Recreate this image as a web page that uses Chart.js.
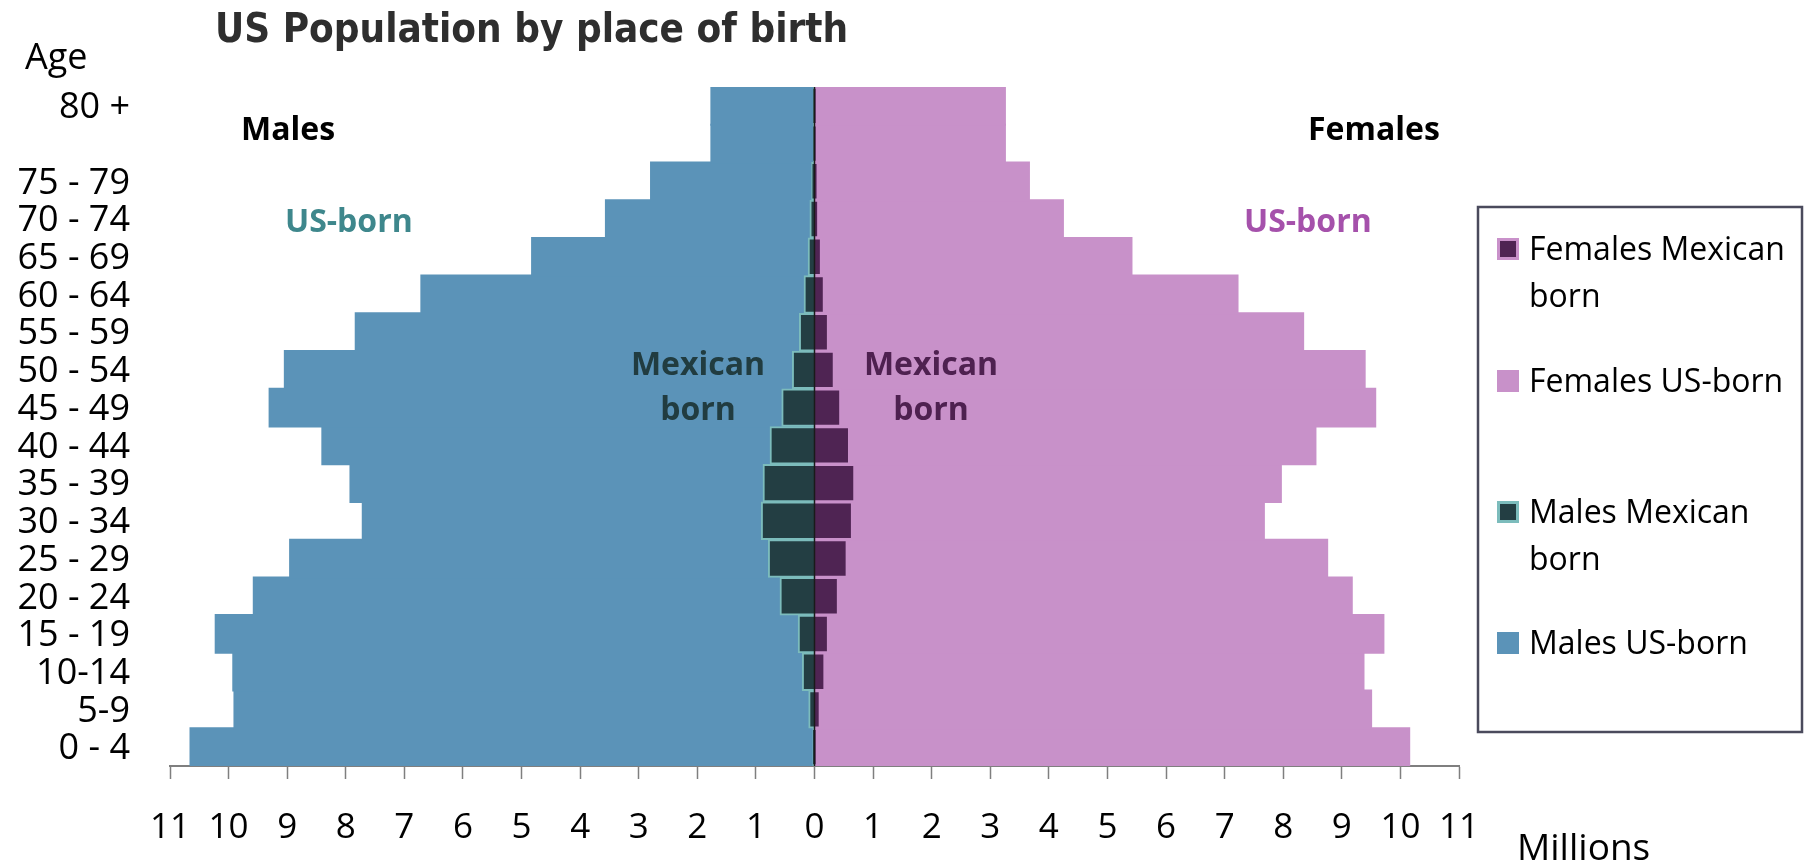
<!DOCTYPE html>
<html>
<head>
<meta charset="utf-8">
<title>US Population by place of birth</title>
<script src="https://cdn.jsdelivr.net/npm/chart.js@4.4.1/dist/chart.umd.min.js"></script>
<style>
  html, body { margin: 0; padding: 0; background: #fff; }
  #wrap { width: 1804px; height: 865px; }
</style>
</head>
<body>
<div id="wrap"><canvas id="pyramid" width="1804" height="865"></canvas></div>
<script>
// age groups from the bottom of the pyramid up; the 80+ bar covers two rows
const ageGroups = ['0 - 4', '5-9', '10-14', '15 - 19', '20 - 24', '25 - 29', '30 - 34', '35 - 39',
  '40 - 44', '45 - 49', '50 - 54', '55 - 59', '60 - 64', '65 - 69', '70 - 74', '75 - 79', '', '80 +'];

// millions of people
const malesUS = [10.65, 9.90, 9.92, 10.22, 9.57, 8.95, 7.71, 7.92, 8.40, 9.30, 9.04, 7.83, 6.71, 4.82, 3.56, 2.79, 1.76, 1.76];
const malesMexican = [0.03, 0.10, 0.21, 0.28, 0.59, 0.79, 0.91, 0.88, 0.76, 0.56, 0.38, 0.26, 0.18, 0.11, 0.08, 0.05, 0.02, 0.02];
const femalesUS = [10.15, 9.50, 9.37, 9.71, 9.17, 8.75, 7.67, 7.96, 8.55, 9.57, 9.39, 8.34, 7.22, 5.41, 4.24, 3.66, 3.25, 3.25];
const femalesMexican = [0.02, 0.10, 0.18, 0.24, 0.41, 0.56, 0.65, 0.69, 0.60, 0.45, 0.34, 0.24, 0.17, 0.12, 0.07, 0.05, 0.02, 0.02];

const xLimit = 11;

// text + legend drawn over the chart
const decorations = {
  id: 'decorations',
  afterDatasetsDraw(chart) {
    const { ctx, chartArea, scales } = chart;
    const x0 = scales.x.getPixelForValue(0);
    ctx.save();
    ctx.strokeStyle = '#1a1a1a';
    ctx.lineWidth = 1.5;
    ctx.beginPath();
    ctx.moveTo(x0, chartArea.top);
    ctx.lineTo(x0, chartArea.bottom);
    ctx.stroke();
    ctx.restore();
  },
  afterDraw(chart) {
    const ctx = chart.ctx;
    ctx.save();
    ctx.textBaseline = 'alphabetic';

    function txt(s, x, y, font, color, align) {
      ctx.font = font;
      ctx.fillStyle = color;
      ctx.textAlign = align || 'left';
      ctx.fillText(s, x, y);
    }

    txt('US Population by place of birth', 215, 42, 'bold 40px "DejaVu Sans Condensed", "DejaVu Sans"', '#2e2e2e');
    txt('Age', 25, 69, '36px "Open Sans"', '#000');
    txt('Millions', 1517, 860, '37px "Open Sans"', '#000');

    const bold = 'bold 32px "Open Sans"';
    txt('Males', 241, 140, bold, '#000');
    txt('Females', 1308, 140, bold, '#000');
    txt('US-born', 285, 232, bold, '#3e878c');
    txt('US-born', 1244, 232, bold, '#a551ab');
    txt('Mexican', 698, 375, bold, '#213c40', 'center');
    txt('born', 698, 420, bold, '#213c40', 'center');
    txt('Mexican', 931, 375, bold, '#4e2150', 'center');
    txt('born', 931, 420, bold, '#4e2150', 'center');

    // legend box
    ctx.strokeStyle = '#4a4a5c';
    ctx.lineWidth = 2.5;
    ctx.strokeRect(1478, 207, 324, 525);

    const baselines = [260, 392, 523, 654];
    ctx.font = '32px "Open Sans"';
    chart.data.datasets.forEach((ds, i) => {
      const base = baselines[i];
      ctx.fillStyle = ds.borderWidth ? ds.borderColor : ds.backgroundColor;
      ctx.fillRect(1497, base - 22, 22, 22);
      if (ds.borderWidth) {
        ctx.fillStyle = ds.backgroundColor;
        ctx.fillRect(1500, base - 19, 16, 16);
      }
      // wrap the label inside the box
      const words = ds.label.split(' ');
      const lines = [];
      let line = '';
      words.forEach(w => {
        const test = line ? line + ' ' + w : w;
        if (ctx.measureText(test).width > 266 && line) {
          lines.push(line);
          line = w;
        } else {
          line = test;
        }
      });
      lines.push(line);
      ctx.fillStyle = '#000';
      ctx.textAlign = 'left';
      lines.forEach((l, k) => ctx.fillText(l, 1529, base + k * 47));
    });
    ctx.restore();
  }
};

new Chart(document.getElementById('pyramid'), {
  type: 'bar',
  data: {
    labels: ageGroups,
    datasets: [
      {
        label: 'Females Mexican born',
        data: femalesMexican,
        backgroundColor: '#4f2453',
        borderColor: '#c991ca',
        borderWidth: 2
      },
      {
        label: 'Females US-born',
        data: femalesUS,
        backgroundColor: '#c891c9',
        borderWidth: 0,
        inflateAmount: 1
      },
      {
        label: 'Males Mexican born',
        data: malesMexican.map(v => -v),
        backgroundColor: '#233e43',
        borderColor: '#7cbcbc',
        borderWidth: 2
      },
      {
        label: 'Males US-born',
        data: malesUS.map(v => -v),
        backgroundColor: '#5b93b8',
        borderWidth: 0,
        inflateAmount: 1
      }
    ]
  },
  options: {
    indexAxis: 'y',
    responsive: false,
    animation: false,
    devicePixelRatio: 1,
    layout: { padding: { top: 87, right: 345, left: 0, bottom: 0 } },
    datasets: {
      bar: { grouped: false, barPercentage: 1, categoryPercentage: 1 }
    },
    plugins: {
      legend: { display: false },
      title: { display: false },
      tooltip: { enabled: false }
    },
    scales: {
      x: {
        type: 'linear',
        min: -xLimit,
        max: xLimit,
        ticks: {
          stepSize: 1,
          autoSkip: false,
          maxRotation: 0,
          padding: 28,
          color: '#000',
          font: { family: 'Open Sans', size: 35 },
          callback: v => Math.abs(v)
        },
        grid: { drawOnChartArea: false, drawTicks: true, tickLength: 13, tickColor: '#7f7f7f', tickWidth: 1.5 },
        border: { color: '#7f7f7f', width: 2 },
        afterFit: s => { s.height = 99; }
      },
      y: {
        reverse: true,
        grid: { display: false, drawTicks: false },
        border: { display: false },
        ticks: {
          autoSkip: false,
          padding: 40,
          labelOffset: 2,
          color: '#000',
          font: { family: 'Open Sans', size: 36 }
        },
        afterFit: s => { s.width = 170; }
      }
    }
  },
  plugins: [decorations]
});
</script>
</body>
</html>
